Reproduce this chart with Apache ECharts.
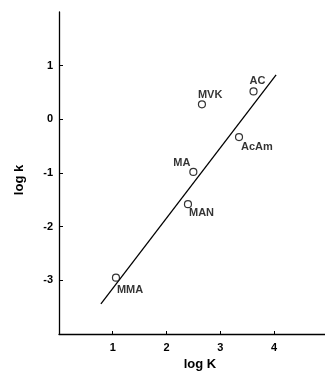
<!DOCTYPE html>
<html>
<head>
<meta charset="utf-8">
<script src="https://cdn.jsdelivr.net/npm/echarts@6/dist/echarts.min.js"></script>
<style>html,body{margin:0;padding:0;background:#fff}#c{width:325px;height:376px}</style>
</head>
<body>
<div id="c"></div>
<script>
// Data
var names = ['MMA', 'MAN', 'MA', 'MVK', 'AcAm', 'AC'];
var logK = [1.06, 2.40, 2.50, 2.66, 3.35, 3.62];
var logk = [-2.95, -1.58, -0.98, 0.28, -0.33, 0.52];
var fitLineX = [0.78, 4.04];
var fitLineY = [-3.44, 0.83];
var xTicks = [1, 2, 3, 4];
var yTicks = [-3, -2, -1, 0, 1];

// label placement (text offsets in px relative to the point)
var labelPlace = {
  'MMA': {align: 'left', offset: [1, 12]},
  'MAN': {align: 'left', offset: [1, 9]},
  'MA': {align: 'right', offset: [-3, -9]},
  'MVK': {align: 'left', offset: [-4, -9]},
  'AcAm': {align: 'left', offset: [2, 10]},
  'AC': {align: 'left', offset: [-4, -10]}
};

var pts = names.map(function (n, i) {
  var p = labelPlace[n];
  return {
    value: [logK[i], logk[i]],
    name: n,
    label: {show: true, formatter: n, position: 'inside', align: p.align, verticalAlign: 'middle', offset: p.offset,
            color: '#000', textBorderWidth: 0, textBorderColor: 'transparent'}
  };
});
var line = fitLineX.map(function (x, i) { return [x, fitLineY[i]]; });

var font = '"Liberation Sans", Arial, sans-serif';
var chart = echarts.init(document.getElementById('c'));
chart.setOption({
  animation: false,
  backgroundColor: '#fff',
  grid: {left: 59, right: 0, top: 12, bottom: 40},
  xAxis: {
    type: 'value', min: 0, max: 4.95, interval: 1,
    name: 'log K', nameLocation: 'middle', nameGap: 24,
    nameTextStyle: {color: '#000', fontFamily: font, fontSize: 13, fontWeight: 'bold', padding: [0, 0, 0, 16]},
    axisLine: {show: true, onZero: false, lineStyle: {color: '#000', width: 1.3}},
    axisTick: {show: true, inside: true, length: 3, customValues: xTicks, lineStyle: {color: '#000'}},
    axisLabel: {show: true, customValues: xTicks, margin: 8, color: '#000', fontFamily: font, fontSize: 11, fontWeight: 'bold'},
    splitLine: {show: false}
  },
  yAxis: {
    type: 'value', min: -4, max: 2, interval: 1,
    name: 'log k', nameLocation: 'middle', nameGap: 33, nameRotate: 90,
    nameTextStyle: {color: '#000', fontFamily: font, fontSize: 13, fontWeight: 'bold', padding: [0, 14, 0, 0]},
    axisLine: {show: true, onZero: false, lineStyle: {color: '#000', width: 1.3}},
    axisTick: {show: true, inside: true, length: 4, customValues: yTicks, lineStyle: {color: '#000'}},
    axisLabel: {show: true, customValues: yTicks, margin: 6, color: '#000', fontFamily: font, fontSize: 11, fontWeight: 'bold'},
    splitLine: {show: false}
  },
  series: [
    {
      type: 'line', data: line, symbol: 'none', silent: true,
      lineStyle: {color: '#000', width: 1.3}
    },
    {
      type: 'scatter', data: pts, symbol: 'circle', symbolSize: 7,
      itemStyle: {color: '#fff', borderColor: '#000', borderWidth: 1.2},
      label: {color: '#000', fontFamily: font, fontSize: 11, fontWeight: 'bold', textBorderWidth: 0},
      emphasis: {disabled: true},
      z: 3
    }
  ]
});
</script>
</body>
</html>
